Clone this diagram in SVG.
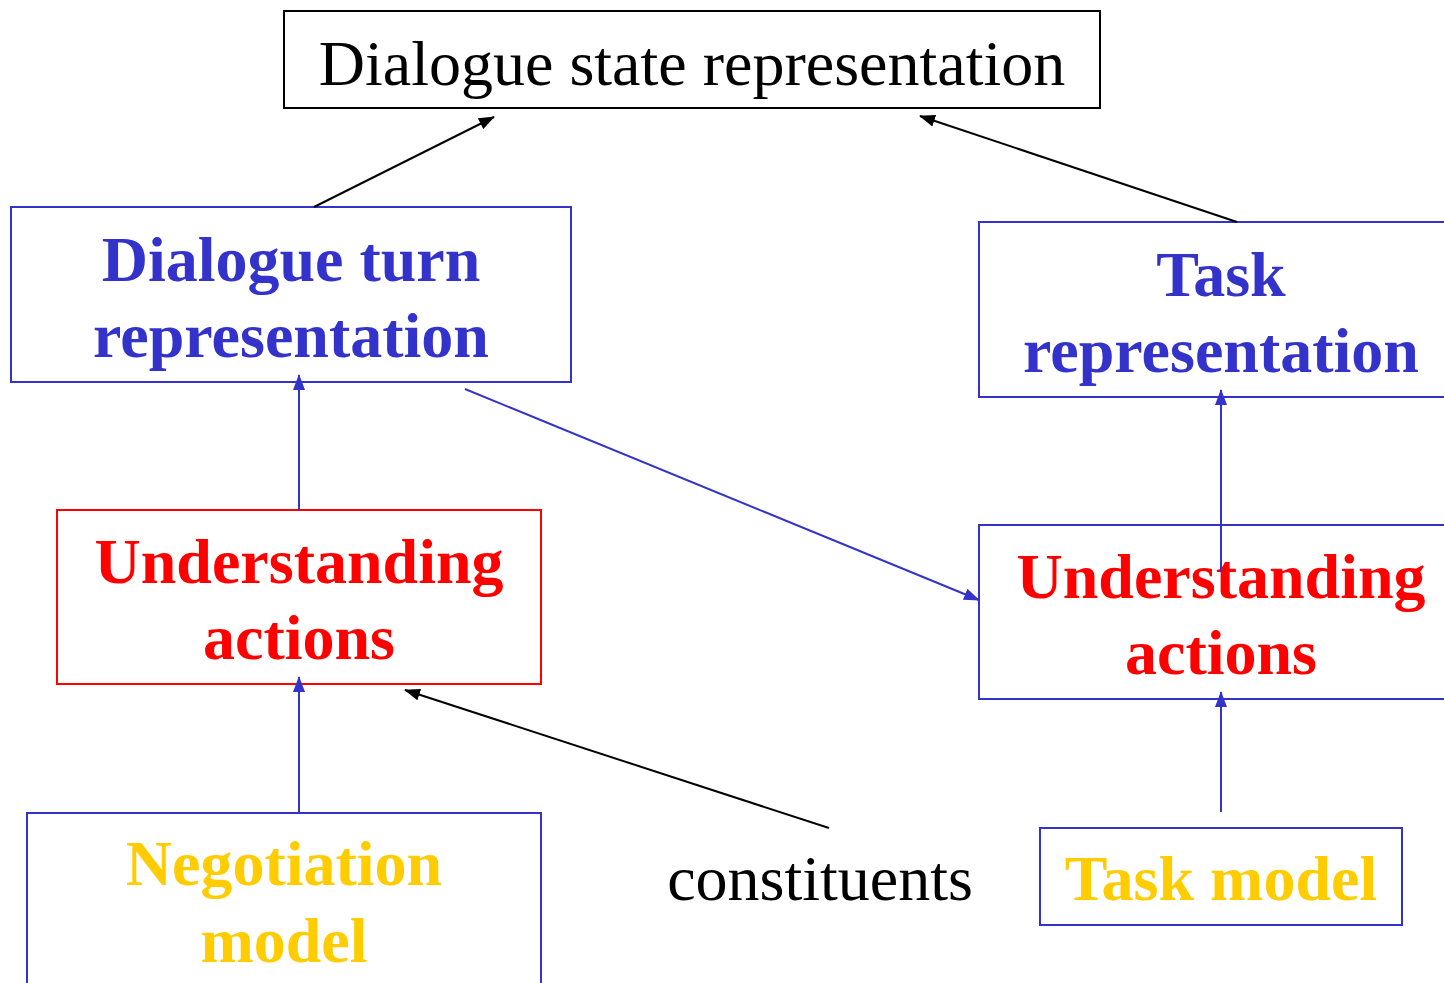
<svg xmlns="http://www.w3.org/2000/svg" width="1444" height="983" viewBox="0 0 1444 983">
  <style>
    .box { fill: #ffffff; stroke-width: 2; }
    .blue { stroke: #3333cc; }
    .red { stroke: #ff0000; }
    .black { stroke: #000000; }
    .t { font-family: "Liberation Serif", "Times New Roman", serif; font-size: 64px; text-anchor: middle; }
    .b { font-weight: bold; }
    .tb { fill: #3333cc; }
    .tr { fill: #ff0000; }
    .ty { fill: #ffcc00; }
    .tk { fill: #000000; }
    .ck { stroke: #000000; stroke-width: 2; fill: none; }
    .cb { stroke: #3333cc; stroke-width: 2; fill: none; }
  </style>
  <defs>
    <marker id="ahK" viewBox="0 0 16 12" refX="15" refY="6" markerWidth="16" markerHeight="12" markerUnits="userSpaceOnUse" orient="auto">
      <path d="M0,0 L16,6 L0,12 Z" fill="#000000"/>
    </marker>
    <marker id="ahB" viewBox="0 0 16 12" refX="15" refY="6" markerWidth="16" markerHeight="12" markerUnits="userSpaceOnUse" orient="auto">
      <path d="M0,0 L16,6 L0,12 Z" fill="#3333cc"/>
    </marker>
  </defs>
  <rect width="1444" height="983" fill="#ffffff"/>

  <g id="dialogue-state">
    <rect class="box black" x="284" y="11" width="816" height="97"/>
    <text class="t tk" x="692" y="85">Dialogue state representation</text>
  </g>

  <g id="dialogue-turn">
    <rect class="box blue" x="11" y="207" width="560" height="175"/>
    <text class="t b tb" x="291" y="281">Dialogue turn</text>
    <text class="t b tb" x="291" y="357">representation</text>
  </g>

  <g id="task-representation">
    <rect class="box blue" x="979" y="222" width="480" height="175"/>
    <text class="t b tb" x="1221" y="296">Task</text>
    <text class="t b tb" x="1221" y="372">representation</text>
  </g>

  <g id="understanding-left">
    <rect class="box red" x="57" y="510" width="484" height="174"/>
    <text class="t b tr" x="299" y="583">Understanding</text>
    <text class="t b tr" x="299" y="659">actions</text>
  </g>

  <g id="understanding-right">
    <rect class="box blue" x="979" y="525" width="480" height="174"/>
    <text class="t b tr" x="1221" y="598">Understanding</text>
    <text class="t b tr" x="1221" y="674">actions</text>
  </g>

  <g id="negotiation-model">
    <rect class="box blue" x="27" y="813" width="514" height="200"/>
    <text class="t b ty" x="284" y="885">Negotiation</text>
    <text class="t b ty" x="284" y="962">model</text>
  </g>

  <g id="task-model">
    <rect class="box blue" x="1040" y="828" width="362" height="97"/>
    <text class="t b ty" x="1221" y="900">Task model</text>
  </g>

  <g id="constituents-label">
    <text class="t tk" x="820" y="900">constituents</text>
  </g>

  <g id="connectors">
    <line class="ck" x1="314" y1="207" x2="494" y2="117" marker-end="url(#ahK)"/>
    <line class="ck" x1="1237" y1="222" x2="920" y2="116" marker-end="url(#ahK)"/>
    <line class="cb" x1="299" y1="510" x2="299" y2="375" marker-end="url(#ahB)"/>
    <line class="cb" x1="465" y1="389" x2="979" y2="600" marker-end="url(#ahB)"/>
    <line class="cb" x1="1221" y1="572" x2="1221" y2="390" marker-end="url(#ahB)"/>
    <line class="cb" x1="1221" y1="812" x2="1221" y2="692" marker-end="url(#ahB)"/>
    <line class="cb" x1="299" y1="813" x2="299" y2="677" marker-end="url(#ahB)"/>
    <line class="ck" x1="829" y1="828" x2="405" y2="690" marker-end="url(#ahK)"/>
  </g>
</svg>
